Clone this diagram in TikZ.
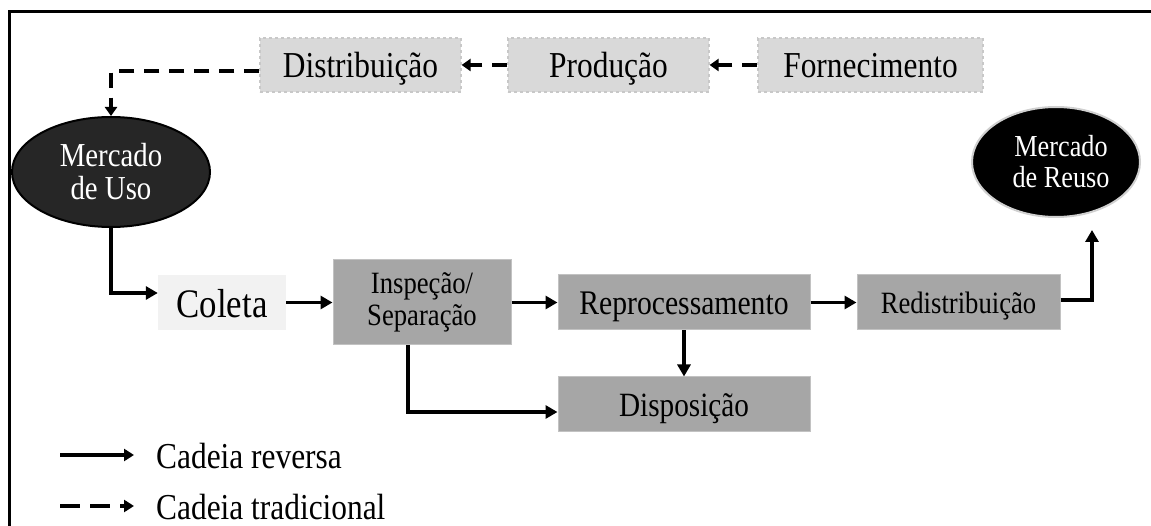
\documentclass[tikz,border=0pt]{standalone}
\usepackage{fontspec}
\setmainfont{Liberation Serif}[FakeStretch=0.86]
\usetikzlibrary{arrows.meta,shapes.geometric}
\definecolor{topfill}{HTML}{D9D9D9}
\definecolor{topdraw}{HTML}{C8C8C8}
\definecolor{procfill}{HTML}{A6A6A6}
\definecolor{procdraw}{HTML}{C2C2C2}
\definecolor{colfill}{HTML}{F2F2F2}
\definecolor{usofill}{HTML}{262626}
\definecolor{reusodraw}{HTML}{D0D0D0}
\tikzset{
  oneline/.style={text height=#1, text depth=6pt},
  topbox/.style={rectangle, fill=topfill, draw=topdraw, dashed, line width=1.2pt, inner sep=0pt, align=center, oneline=32pt, font=\fontsize{36.5}{40}\selectfont},
  procbox/.style={rectangle, fill=procfill, draw=procdraw, line width=1pt, inner sep=0pt, align=center},
  colbox/.style={rectangle, fill=colfill, inner sep=0pt, align=center},
  mkt/.style={ellipse, inner sep=0pt, align=center, text=white, line width=2pt},
  arr/.style={line width=3.5pt, -{Triangle[length=12pt,width=13pt]}},
  darr/.style={line width=3.5pt, dash pattern=on 15pt off 10pt, -{Triangle[length=9pt,width=12pt]}},
  larr/.style={line width=3.5pt, -{Triangle[length=10pt,width=12pt]}},
  ldarr/.style={line width=3.5pt, dash pattern=on 20pt off 10pt, -{Triangle[length=10pt,width=12pt]}},
  legtxt/.style={anchor=base west, inner sep=0pt, font=\fontsize{36.5}{40}\selectfont},
}
\begin{document}
\begin{tikzpicture}[x=1pt,y=-1pt]
\useasboundingbox (0,0) rectangle (1151,526);
% frame (cropped at right and bottom)
\draw[line width=3pt] (9,530) -- (9,12) -- (1155,12);

% traditional chain
\node[topbox, minimum width=201pt, minimum height=54pt] (dist) at (360.5,65) {Distribuição};
\node[topbox, minimum width=201pt, minimum height=54pt] (prod) at (608.5,65) {Produção};
\node[topbox, minimum width=225pt, minimum height=54pt] (forn) at (870.5,65) {Fornecimento};

% markets
\node[mkt, fill=usofill, draw=black, minimum width=198pt, minimum height=110pt, font=\fontsize{33.5}{33}\selectfont] (muso) at (111,172) {Mercado\\de Uso};
\node[mkt, fill=black, draw=reusodraw, minimum width=168pt, minimum height=110pt, font=\fontsize{30.5}{31}\selectfont] (mreuso) at (1056,162) {\hspace*{10pt}Mercado\\\hspace*{10pt}de Reuso};

% reverse chain
\node[colbox, oneline=35.5pt, minimum width=128pt, minimum height=55pt, font=\fontsize{40.5}{44}\selectfont] (coleta) at (222,302.5) {Coleta};
\node[procbox, minimum width=178pt, minimum height=85pt, font=\fontsize{31}{32}\selectfont] (insp) at (422,302.5) {Inspeção/\\Separação};
\node[procbox, oneline=30.5pt, minimum width=252pt, minimum height=55pt, font=\fontsize{34.5}{36}\selectfont] (repro) at (684,302.5) {Reprocessamento};
\node[procbox, oneline=30pt, minimum width=252pt, minimum height=54pt, font=\fontsize{34}{36}\selectfont] (disp) at (684,404) {Disposição};
\node[procbox, oneline=28pt, minimum width=203pt, minimum height=55pt, font=\fontsize{31}{34}\selectfont] (redis) at (958.5,302.5) {Redistribuição};

% traditional connectors
\draw[darr] (forn.west) -- (prod.east);
\draw[darr] (prod.west) -- (dist.east);
\draw[darr] ([yshift=-6pt]dist.west) -| (muso.north);

% reverse connectors
\draw[arr] (muso.south) |- ([yshift=9.5pt]coleta.west);
\draw[arr] (coleta.east) -- (insp.west);
\draw[arr] (insp.east) -- (repro.west);
\draw[arr] (repro.south) -- (disp.north);
\draw[arr] ([xshift=-14pt]insp.south) |- ([yshift=-8pt]disp.west);
\draw[arr] (repro.east) -- (redis.west);
\coordinate (reusoin) at (1092,230);
\draw[arr] ([yshift=2.5pt]redis.east) -| (reusoin);

% legend
\coordinate (l1a) at (60,455);
\coordinate (l1b) at (134,455);
\coordinate (l2a) at (60,506);
\coordinate (l2b) at (134,506);
\draw[larr] (l1a) -- (l1b);
\draw[ldarr] (l2a) -- (l2b);
\node[legtxt] (leg1) at (156,468) {Cadeia reversa};
\node[legtxt] (leg2) at (156,519) {Cadeia tradicional};
\end{tikzpicture}
\end{document}
